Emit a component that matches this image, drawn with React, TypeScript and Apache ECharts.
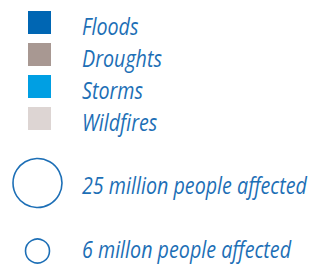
import React, { useEffect, useRef } from "react";
import * as echarts from "echarts";

const categories = ["Floods", "Droughts", "Storms", "Wildfires"];
const categoryColors = ["#0066b3", "#a89892", "#009fe3", "#ddd5d3"];
const sizeValues = [25, 6];
const sizeLabels = ["25 million people affected", "6 millon people affected"];

const TEXT_COLOR = "#1d6fb6";
const FONT_FAMILY = "'Open Sans', sans-serif";
const FONT = `italic 23px ${FONT_FAMILY}`;

export default function App() {
  const ref = useRef<HTMLDivElement>(null);
  useEffect(() => {
    const chart = echarts.init(ref.current!, null, { renderer: "svg" });
    const canvas = document.createElement("canvas");
    const ctx = canvas.getContext("2d")!;
    ctx.font = FONT;
    const w = ctx.measureText(sizeLabels[0]).width || 260;
    const sx = Math.min(1, 225 / w);
    const textEl = (text: string, x: number, y: number) => ({
      type: "text",
      x,
      y,
      scaleX: sx,
      style: {
        text,
        fill: TEXT_COLOR,
        font: FONT,
        lineHeight: 26,
        verticalAlign: "middle",
        align: "left",
      },
    });
    const graphics: any[] = [];
    categories.forEach((name, i) => {
      const top = 11 + 32 * i;
      graphics.push({
        type: "rect",
        shape: { x: 28, y: top, width: 23, height: 23 },
        style: { fill: categoryColors[i] },
      });
      graphics.push(textEl(name, 82, top + 15));
    });
    const rScale = (v: number) => 4.9 * Math.sqrt(v);
    const circleY = [183, 251];
    const textY = [185, 249];
    sizeValues.forEach((v, i) => {
      graphics.push({
        type: "circle",
        shape: { cx: 37.5, cy: circleY[i], r: rScale(v) },
        style: { fill: "none", stroke: TEXT_COLOR, lineWidth: 1.6 },
      });
      graphics.push(textEl(sizeLabels[i], 82, textY[i]));
    });
    chart.setOption({
      animation: false,
      backgroundColor: "#ffffff",
      graphic: graphics,
    });
    return () => chart.dispose();
  }, []);
  return (
    <div
      ref={ref}
      style={{ position: "absolute", left: 0, top: 0, width: 313, height: 264 }}
    />
  );
}
